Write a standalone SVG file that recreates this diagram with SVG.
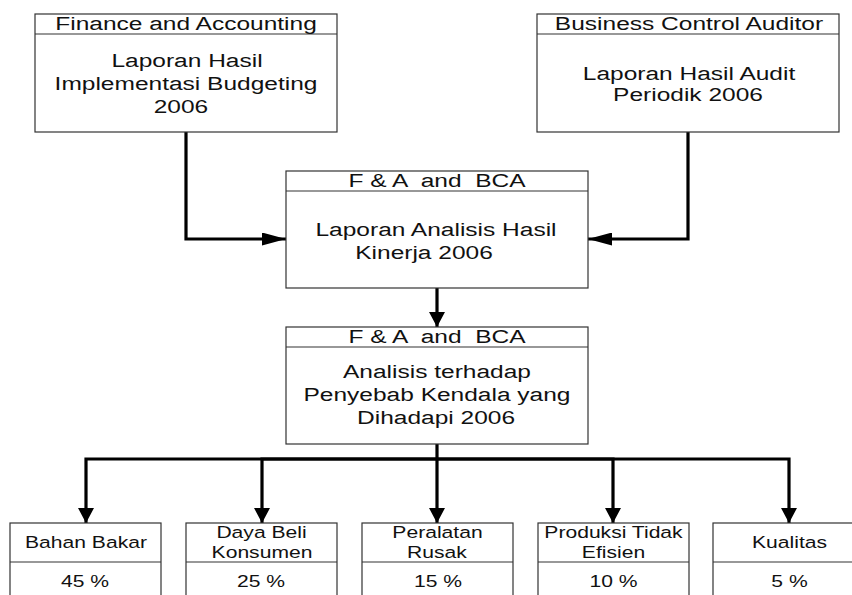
<svg xmlns="http://www.w3.org/2000/svg" width="852" height="595" viewBox="0 0 852 595">
<defs>
<style>
.box{fill:#fff;stroke:#333;stroke-width:1.2}
.sep{stroke:#333;stroke-width:1.2}
.t{font-family:"Liberation Sans",Arial,sans-serif;font-size:24.5px;fill:#111;text-anchor:middle;white-space:pre}
.s{font-family:"Liberation Sans",Arial,sans-serif;font-size:21.1px;fill:#111;text-anchor:middle}
.c{fill:none;stroke:#000;stroke-width:3.2;stroke-linejoin:miter}
</style>
<marker id="ah" markerUnits="userSpaceOnUse" markerWidth="24" markerHeight="13" refX="24" refY="6.5" orient="auto" viewBox="0 0 24 13">
<path d="M0,0 L24,6.5 L0,13 z" fill="#000"/>
</marker>
<marker id="av" markerUnits="userSpaceOnUse" markerWidth="15" markerHeight="16" refX="15" refY="8" orient="auto" viewBox="0 0 15 16">
<path d="M0,0 L15,8 L0,16 z" fill="#000"/>
</marker>
</defs>
<rect width="852" height="595" fill="#fff"/>

<g id="connectors">
<path class="c" d="M186,132 V239 H286" marker-end="url(#ah)"/>
<path class="c" d="M688,132 V239 H588" marker-end="url(#ah)"/>
<path class="c" d="M437,288 V327" marker-end="url(#av)"/>
<path class="c" d="M437,444 V523" marker-end="url(#av)"/>
<path class="c" d="M437,459 H86 V523" marker-end="url(#av)"/>
<path class="c" d="M437,459 H262 V523" marker-end="url(#av)"/>
<path class="c" d="M437,459 H613 V523" marker-end="url(#av)"/>
<path class="c" d="M437,459 H789 V523" marker-end="url(#av)"/>
</g>

<g id="finance">
<rect class="box" x="35" y="14" width="302" height="118"/>
<line class="sep" x1="35" y1="34" x2="337" y2="34"/>
<text class="t" transform="translate(186 30) scale(1 0.735)">Finance and Accounting</text>
<text class="t" transform="translate(187 67) scale(1 0.735)">Laporan Hasil</text>
<text class="t" transform="translate(186 90) scale(1 0.735)">Implementasi Budgeting</text>
<text class="t" transform="translate(181 113) scale(1 0.735)">2006</text>
</g>

<g id="bca">
<rect class="box" x="537" y="14" width="302" height="118"/>
<line class="sep" x1="537" y1="34" x2="839" y2="34"/>
<text class="t" transform="translate(689 30) scale(1 0.735)">Business Control Auditor</text>
<text class="t" transform="translate(689 80) scale(1 0.735)">Laporan Hasil Audit</text>
<text class="t" transform="translate(688 101) scale(1 0.735)">Periodik 2006</text>
</g>

<g id="analisis-kinerja">
<rect class="box" x="286" y="171" width="302" height="117"/>
<line class="sep" x1="286" y1="191" x2="588" y2="191"/>
<text class="t" transform="translate(437 187) scale(1 0.735)">F &amp; A  and  BCA</text>
<text class="t" transform="translate(436 236) scale(1 0.735)">Laporan Analisis Hasil</text>
<text class="t" transform="translate(424 259) scale(1 0.735)">Kinerja 2006</text>
</g>

<g id="analisis-kendala">
<rect class="box" x="286" y="327" width="302" height="117"/>
<line class="sep" x1="286" y1="347" x2="588" y2="347"/>
<text class="t" transform="translate(437 343) scale(1 0.735)">F &amp; A  and  BCA</text>
<text class="t" transform="translate(437 378) scale(1 0.735)">Analisis terhadap</text>
<text class="t" transform="translate(437 401) scale(1 0.735)">Penyebab Kendala yang</text>
<text class="t" transform="translate(436 424) scale(1 0.735)">Dihadapi 2006</text>
</g>

<g id="bahan-bakar">
<rect class="box" x="10" y="523" width="151" height="80"/>
<line class="sep" x1="10" y1="562" x2="161" y2="562"/>
<text class="s" transform="translate(86 548) scale(1 0.78)">Bahan Bakar</text>
<text class="s" transform="translate(85 587) scale(1 0.78)">45 %</text>
</g>

<g id="daya-beli">
<rect class="box" x="186" y="523" width="151" height="80"/>
<line class="sep" x1="186" y1="562" x2="337" y2="562"/>
<text class="s" transform="translate(261.5 538) scale(1 0.78)">Daya Beli</text>
<text class="s" transform="translate(262 558) scale(1 0.78)">Konsumen</text>
<text class="s" transform="translate(261 587) scale(1 0.78)">25 %</text>
</g>

<g id="peralatan">
<rect class="box" x="362" y="523" width="151" height="80"/>
<line class="sep" x1="362" y1="562" x2="513" y2="562"/>
<text class="s" transform="translate(437.5 538) scale(1 0.78)">Peralatan</text>
<text class="s" transform="translate(437 558) scale(1 0.78)">Rusak</text>
<text class="s" transform="translate(438 587) scale(1 0.78)">15 %</text>
</g>

<g id="produksi">
<rect class="box" x="538" y="523" width="151" height="80"/>
<line class="sep" x1="538" y1="562" x2="689" y2="562"/>
<text class="s" transform="translate(613.5 538) scale(1 0.78)">Produksi Tidak</text>
<text class="s" transform="translate(613.5 558) scale(1 0.78)">Efisien</text>
<text class="s" transform="translate(613.5 587) scale(1 0.78)">10 %</text>
</g>

<g id="kualitas">
<rect class="box" x="713" y="523" width="151" height="80"/>
<line class="sep" x1="713" y1="562" x2="864" y2="562"/>
<text class="s" transform="translate(789.5 548) scale(1 0.78)">Kualitas</text>
<text class="s" transform="translate(789.5 587) scale(1 0.78)">5 %</text>
</g>
</svg>
